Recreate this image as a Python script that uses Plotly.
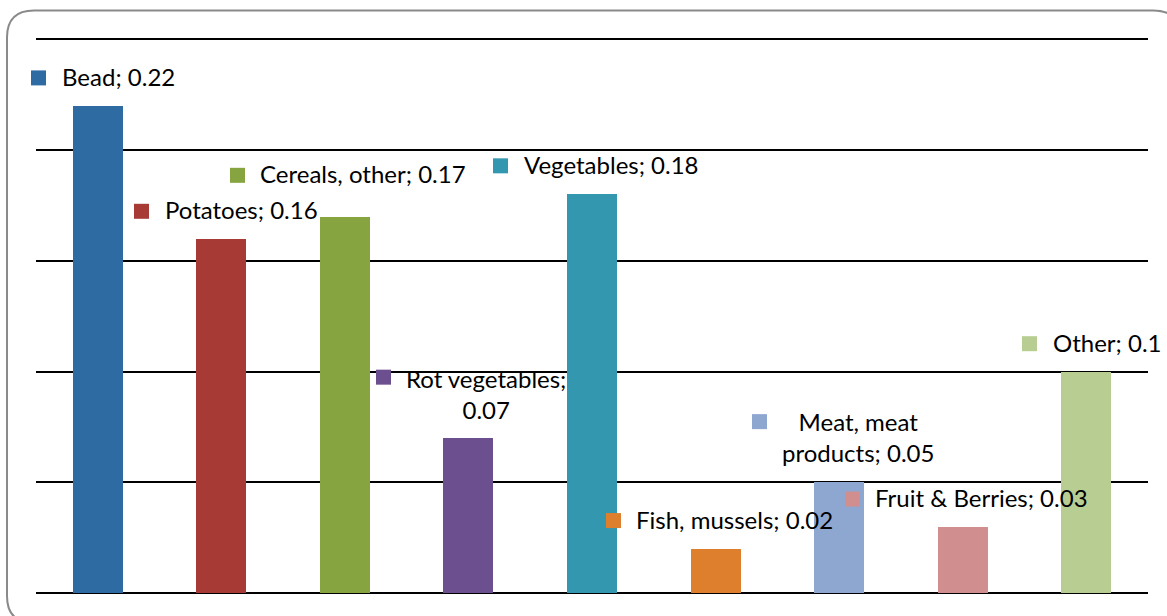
import plotly.graph_objects as go

# ---- data ----
categories = ["Bead", "Potatoes", "Cereals, other", "Rot vegetables", "Vegetables",
              "Fish, mussels", "Meat, meat products", "Fruit & Berries", "Other"]
values = [0.22, 0.16, 0.17, 0.07, 0.18, 0.02, 0.05, 0.03, 0.1]
colors = ["#2E6BA3", "#A83A36", "#86A440", "#6C4F8E", "#3397B0",
          "#DE7F2E", "#8EA7D0", "#D08E8E", "#B8CD92"]

# ---- layout geometry (pixels) ----
W, H = 1167, 616
L, R, B = 36, 1148, 593
TOP_GRID = 39          # pixel row of the 0.25 gridline
YGRID = 0.25
YMAX = 0.252           # slightly above top gridline so it is drawn
PPU = (B - TOP_GRID) / YGRID
T = B - YMAX * PPU
n = len(categories)

def px_x(px):
    return (px - L) / (R - L) * n - 0.5

def px_y(py):
    return (B - py) / PPU

def pap_x(px):
    return (px - L) / (R - L)

def pap_y(py):
    return (B - py) / (B - T)

# label placement (style): square centre, text anchor, mode
TY = -2
label_style = [
    # (sq_x, sq_y, text_x, text_y, anchor, line_break_after)
    (38.5, 77.5, 60, 78, "left", None),
    (141.5, 211, 163, 211, "left", None),
    (237.5, 175, 258, 175, "left", None),
    (383.5, 377, 486, 396, "center", "Rot vegetables;"),
    (500.5, 165.5, 522, 166, "left", None),
    (613.5, 520.5, 634, 521, "left", None),
    (759.5, 421.5, 858, 439, "center", "Meat, meat"),
    (852.5, 499, 873, 499, "left", None),
    (1029.5, 343.5, 1051, 344, "left", None),
]

FONT = "Lato"
FS = 24

fig = go.Figure()
fig.add_trace(go.Bar(
    x=list(range(n)), y=values, marker=dict(color=colors, line=dict(width=0)),
    width=0.405, showlegend=False, hoverinfo="skip"))

annotations = []
sq_x, sq_y = [], []
for cat, val, st in zip(categories, values, label_style):
    sx, sy, tx, ty, anch, brk = st
    sq_x.append(px_x(sx))
    sq_y.append(px_y(sy))
    txt = f"{cat}; {val}"
    if brk:
        txt = txt.replace(brk + " ", brk + "<br>", 1)
    annotations.append(dict(
        x=px_x(tx), y=px_y(ty + TY), xref="x", yref="y", text=txt, showarrow=False,
        xanchor=anch, yanchor="middle", align="center",
        font=dict(family=FONT, size=FS, color="#000000")))

fig.add_trace(go.Scatter(
    x=sq_x, y=sq_y, mode="markers",
    marker=dict(symbol="square", size=15, color=colors, line=dict(width=0)),
    showlegend=False, hoverinfo="skip", cliponaxis=False))

# rounded outer border
x0, x1, y0, y1, r = 7, 1180, 10, 623, 27
path = (f"M {pap_x(x0)},{pap_y(y0 + r)} "
        f"Q {pap_x(x0)},{pap_y(y0)} {pap_x(x0 + r)},{pap_y(y0)} "
        f"L {pap_x(x1 - r)},{pap_y(y0)} "
        f"Q {pap_x(x1)},{pap_y(y0)} {pap_x(x1)},{pap_y(y0 + r)} "
        f"L {pap_x(x1)},{pap_y(y1 - r)} "
        f"Q {pap_x(x1)},{pap_y(y1)} {pap_x(x1 - r)},{pap_y(y1)} "
        f"L {pap_x(x0 + r)},{pap_y(y1)} "
        f"Q {pap_x(x0)},{pap_y(y1)} {pap_x(x0)},{pap_y(y1 - r)} Z")

fig.update_layout(
    width=W, height=H,
    margin=dict(l=L, r=W - R, t=T, b=H - B, pad=0),
    paper_bgcolor="white", plot_bgcolor="white",
    annotations=annotations,
    shapes=[dict(type="path", path=path, xref="paper", yref="paper",
                 line=dict(color="#8A8A8A", width=2), fillcolor="rgba(0,0,0,0)", layer="below")],
    xaxis=dict(range=[-0.5, n - 0.5], showticklabels=False, showgrid=False,
               zeroline=False, showline=False, ticks=""),
    yaxis=dict(range=[0, YMAX], dtick=0.05, tick0=0, showgrid=True,
               gridcolor="#000000", gridwidth=1.7, showticklabels=False,
               zeroline=True, zerolinecolor="#000000", zerolinewidth=1.8,
               showline=False, ticks=""),
    bargap=0,
)

fig.write_html("out.html", config={"displayModeBar": False},
               post_script="document.body.style.margin='0px';document.body.style.overflow='hidden';")
